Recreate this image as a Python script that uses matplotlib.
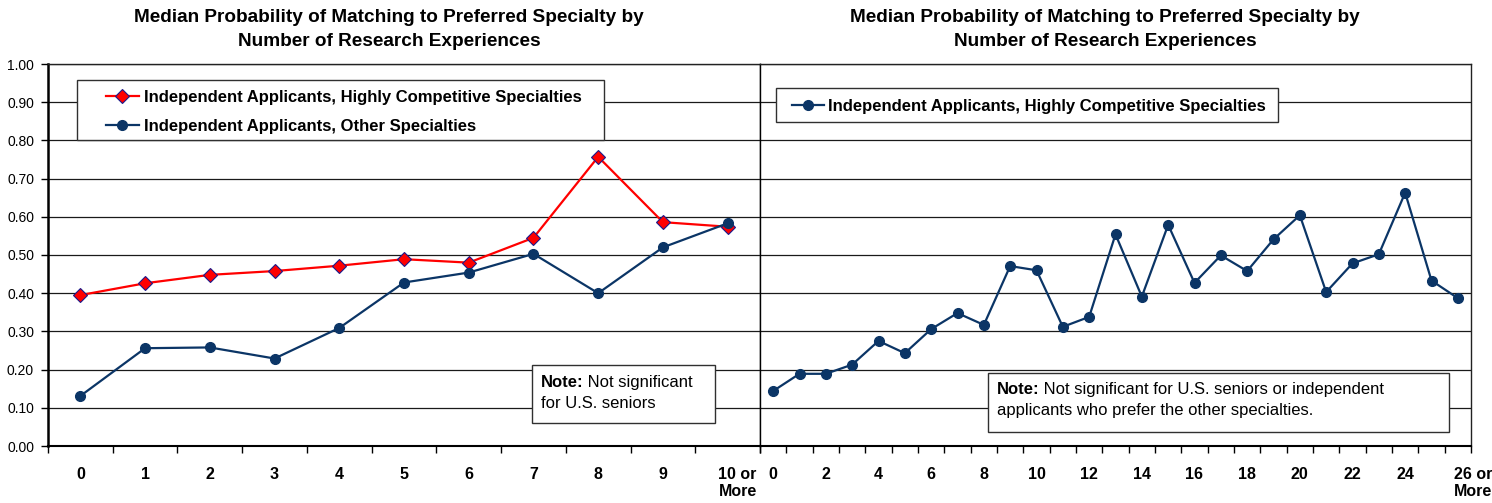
import matplotlib
matplotlib.use("Agg")
from matplotlib import pyplot as plt
from matplotlib.patches import Rectangle
from matplotlib.transforms import ScaledTranslation
import numpy as np

# ---------- data ----------
left_labels = ["0", "1", "2", "3", "4", "5", "6", "7", "8", "9", "10 or\nMore"]
highly_comp = [0.395, 0.426, 0.448, 0.458, 0.472, 0.489, 0.480, 0.545, 0.757, 0.586, 0.574]
other_spec = [0.131, 0.256, 0.258, 0.229, 0.309, 0.428, 0.454, 0.503, 0.400, 0.520, 0.583]

right_labels = [str(i) for i in range(26)] + ["26 or\nMore"]
highly_comp_r = [0.144, 0.189, 0.189, 0.213, 0.275, 0.243, 0.306, 0.348, 0.317, 0.471,
                 0.460, 0.312, 0.338, 0.554, 0.391, 0.579, 0.427, 0.499, 0.458, 0.541,
                 0.604, 0.403, 0.478, 0.502, 0.663, 0.433, 0.387]

title = "Median Probability of Matching to Preferred Specialty by\nNumber of Research Experiences"
red = "#FF0000"
navy = "#0B3566"
edge = "#303030"

plt.rcParams['font.family'] = ['Liberation Sans', 'DejaVu Sans']

fig = plt.figure(figsize=(14.92, 5.03), dpi=100)
ax1 = fig.add_axes([48/1492, 1-446/503, 712/1492, 382/503])
ax2 = fig.add_axes([760/1492, 1-446/503, 711/1492, 382/503])


def setup(ax, labels, shift):
    n = len(labels)
    ax.set_xlim(-0.5, n - 0.5)
    ax.set_ylim(0, 1)
    ax.set_yticks(np.arange(0, 1.01, 0.1))
    ax.grid(True, axis='y', color='#1a1a1a', linewidth=0.9, zorder=0)
    ax.set_axisbelow(True)
    ax.set_xticks(np.arange(n))
    shown = [lab if (n < 20 or i % 2 == 0) else "" for i, lab in enumerate(labels)]
    ax.set_xticklabels(shown, fontsize=11.5, fontweight='bold',
                       va='top', ha='center', multialignment='center', linespacing=1.2)
    ax.set_xticks(np.arange(n + 1) - 0.5, minor=True)
    ax.tick_params(axis='x', which='major', length=0, pad=15)
    ax.tick_params(axis='x', which='minor', length=5, width=1, color='black', direction='out')
    for s in ax.spines.values():
        s.set_color('#222222')
        s.set_linewidth(1.0)
    ax.spines['bottom'].set_linewidth(1.5)
    ax.spines['bottom'].set_color('black')
    last = ax.get_xticklabels()[-1]
    last.set_transform(last.get_transform() + ScaledTranslation(shift/100, 0, fig.dpi_scale_trans))


setup(ax1, left_labels, 10)
setup(ax2, right_labels, 15)

ax1.tick_params(axis='y', length=5, width=1, pad=5, labelsize=10)
ax1.set_yticklabels(["%.2f" % v for v in np.arange(0, 1.01, 0.1)])
ax1.spines['left'].set_linewidth(1.8)
ax1.spines['left'].set_color('black')
ax2.tick_params(axis='y', length=0, labelleft=False)
ax2.spines['left'].set_color('black')

x1 = np.arange(len(left_labels))
ax1.plot(x1, highly_comp, color=red, linewidth=1.6, marker='D', markersize=7,
         markerfacecolor=red, markeredgecolor='#1a1a8c', markeredgewidth=0.8,
         label="Independent Applicants, Highly Competitive Specialties", zorder=3)
ax1.plot(x1, other_spec, color=navy, linewidth=1.6, marker='o', markersize=7,
         markerfacecolor=navy, markeredgecolor=navy,
         label="Independent Applicants, Other Specialties", zorder=3)

x2 = np.arange(len(right_labels))
ax2.plot(x2, highly_comp_r, color=navy, linewidth=1.6, marker='o', markersize=7,
         markerfacecolor=navy, markeredgecolor=navy,
         label="Independent Applicants, Highly Competitive Specialties", zorder=3)

# legend frames (drawn separately so padding matches)
ax1.add_patch(Rectangle((0.0407, 0.801), 0.740, 0.157, transform=ax1.transAxes,
                        facecolor='white', edgecolor=edge, linewidth=1.0, zorder=4))
ax2.add_patch(Rectangle((0.0225, 0.848), 0.706, 0.089, transform=ax2.transAxes,
                        facecolor='white', edgecolor=edge, linewidth=1.0, zorder=4))
leg1 = ax1.legend(loc='upper left', bbox_to_anchor=(0.0815, 0.932), frameon=False,
                  borderpad=0, borderaxespad=0, handlelength=1.95, handletextpad=0.3,
                  labelspacing=0.85, prop={'weight': 'bold', 'size': 12})
leg2 = ax2.legend(loc='upper left', bbox_to_anchor=(0.045, 0.909), frameon=False,
                  borderpad=0, borderaxespad=0, handlelength=1.95, handletextpad=0.2,
                  prop={'weight': 'bold', 'size': 12})
leg1.set_zorder(5)
leg2.set_zorder(5)

# note boxes
ax1.add_patch(Rectangle((0.680, 0.060), 0.257, 0.152, transform=ax1.transAxes,
                        facecolor='white', edgecolor=edge, linewidth=1.0, zorder=4))
ax2.add_patch(Rectangle((0.321, 0.037), 0.648, 0.154, transform=ax2.transAxes,
                        facecolor='white', edgecolor=edge, linewidth=1.0, zorder=4))


def note(ax, x, y1, y2, rest1, line2):
    t = ax.text(x, y1, "Note:", fontweight='bold', fontsize=12, transform=ax.transAxes,
                va='center', ha='left', zorder=6)
    ax.annotate(rest1, xy=(1, 0), xycoords=t, va='bottom', ha='left', fontsize=12, zorder=6)
    ax.text(x, y2, line2, fontsize=12, transform=ax.transAxes, va='center', ha='left', zorder=6)


note(ax1, 0.692, 0.165, 0.110, " Not significant", "for U.S. seniors")
note(ax2, 0.333, 0.147, 0.092, " Not significant for U.S. seniors or independent",
     "applicants who prefer the other specialties.")

fig.text(389/1492, 1-9/503, title, ha='center', va='top', fontsize=13.7, fontweight='bold',
         linespacing=1.55)
fig.text(1105/1492, 1-9/503, title, ha='center', va='top', fontsize=13.7, fontweight='bold',
         linespacing=1.55)

plt.savefig("out.png", dpi=100)
